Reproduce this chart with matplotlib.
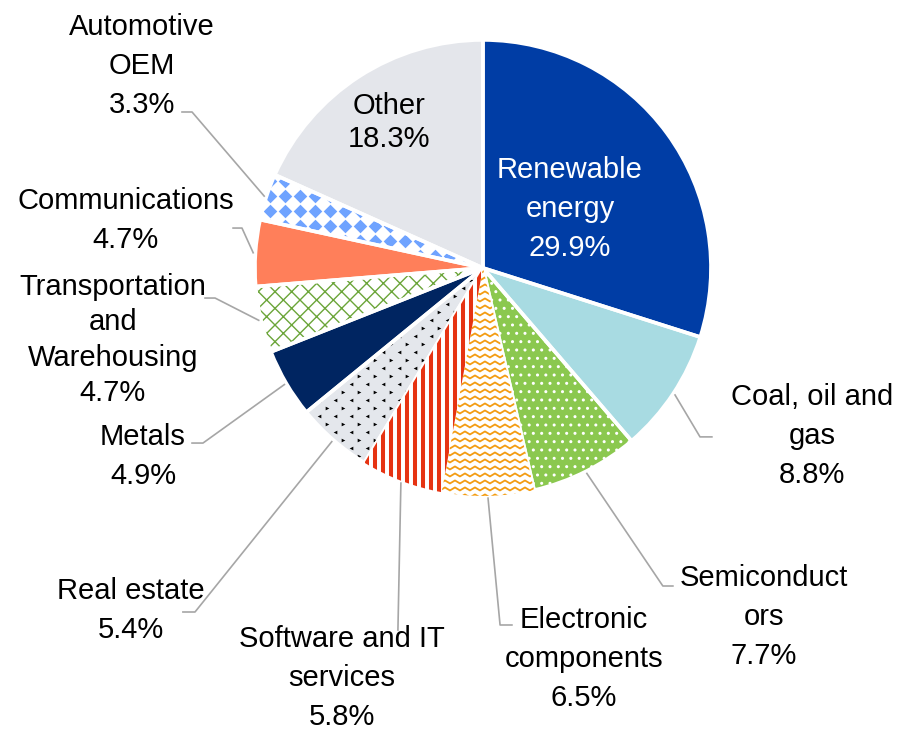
import numpy as np
import matplotlib
matplotlib.use("Agg")
import matplotlib.pyplot as plt
from matplotlib.collections import LineCollection

plt.rcParams['font.family'] = ['Liberation Sans', 'DejaVu Sans']
plt.rcParams['hatch.linewidth'] = 1.0

# Sector shares, clockwise from 12 o'clock
sectors = ["Renewable\nenergy", "Coal, oil and\ngas", "Semiconduct\nors",
           "Electronic\ncomponents", "Software and IT\nservices", "Real estate",
           "Metals", "Transportation\nand\nWarehousing", "Communications",
           "Automotive\nOEM", "Other"]
shares = [29.9, 8.8, 7.7, 6.5, 5.8, 5.4, 4.9, 4.7, 4.7, 3.3, 18.3]

face_colors = ["#003DA5", "#A8DBE2", "#8BC84F", "white", "white", "#E4E7EC",
               "#002561", "white", "#FF7F5A", "white", "#E4E6EB"]
hatch_colors = ["#003DA5", "#A8DBE2", "white", "white", "white", "#E4E7EC",
                "#002561", "#6BA539", "#FF7F5A", "white", "#E4E6EB"]
hatches = [None, None, "..", None, None, None, None, "xx", None, None, None]

# label placement: (knee, end of leader, text centre) in axes data units
label_pos = {
    1: ((0.952, -0.741), (1.004, -0.741), (1.443, -0.738)),
    2: ((0.789, -1.395), (0.833, -1.395), (1.232, -1.533)),
    3: ((0.075, -1.566), (0.127, -1.566), (0.443, -1.713)),
    4: ((-0.373, -1.588), (-0.373, -1.588), (-0.618, -1.800)),
    5: ((-1.263, -1.509), (-1.316, -1.509), (-1.544, -1.504)),
    6: ((-1.228, -0.768), (-1.276, -0.768), (-1.491, -0.825)),
    7: ((-1.175, -0.132), (-1.219, -0.132), (-1.623, -0.316)),
    8: ((-1.057, 0.175), (-1.096, 0.175), (-1.566, 0.206)),
    9: ((-1.276, 0.684), (-1.320, 0.684), (-1.496, 0.886)),
}
inside_pos = {0: (0.382, 0.257), 10: (-0.412, 0.638)}
spacing = {7: 1.32, 10: 1.27}

fig = plt.figure(figsize=(9.08, 7.34), dpi=100)
ax = fig.add_axes([0.2808, 0.3243, 0.5022, 0.6213])

wedges, _ = ax.pie(shares, startangle=90, counterclock=False, radius=1,
                   colors=face_colors, wedgeprops=dict(linewidth=0))
for w, ec, h in zip(wedges, hatch_colors, hatches):
    w.set_edgecolor(ec)
    w.set_linewidth(0)
    if h:
        w.set_hatch(h)

px = 1 / 228.0  # one pixel in data units

# red vertical stripes (Software and IT services)
xs = np.arange(-1, 1, 8 * px)
stripes = LineCollection([[(x, -1.05), (x, 1.05)] for x in xs],
                         colors="#E63312", linewidths=2.9)
ax.add_collection(stripes)
stripes.set_clip_path(wedges[4])

# orange zigzag rows (Electronic components)
zx = np.arange(-1, 1, 5 * px)
zig = []
for y in np.arange(-1, 1, 7 * px):
    zy = y + np.where(np.arange(len(zx)) % 2 == 0, 1.5 * px, -1.5 * px)
    zig.append(np.column_stack([zx, zy]))
zz = LineCollection(zig, colors="#F39C12", linewidths=1.3)
ax.add_collection(zz)
zz.set_clip_path(wedges[3])

# blue diamonds (Automotive OEM)
gx, gy = np.meshgrid(np.arange(-1, 1, 15 * px), np.arange(-1, 1, 15 * px))
dm = ax.scatter(gx.ravel(), gy.ravel(), marker="D", s=48, color="#6FA3FF",
                linewidths=0)
dm.set_clip_path(wedges[9])

# small black chevrons (Real estate)
cx, cy = np.meshgrid(np.arange(-1, 1, 16 * px), np.arange(-1, 1, 8 * px))
shift = (np.arange(cy.shape[0]) % 2)[:, None] * 8 * px
cx = cx + shift
rows = (np.arange(cy.shape[0]) % 2)[:, None] * np.ones_like(cx)
for mk, sel in (("<", rows == 0), (">", rows == 1)):
    sc = ax.scatter(cx[sel], cy[sel], marker=mk, s=7, color="black",
                    linewidths=0)
    sc.set_clip_path(wedges[5])

# white separators between wedges
sep, _ = ax.pie(shares, startangle=90, counterclock=False, radius=1,
                colors=["none"] * len(shares),
                wedgeprops=dict(linewidth=2.6, edgecolor="white"))

ax.set_xlim(-1, 1)
ax.set_ylim(-1, 1)
ax.set_aspect("equal")
ax.axis("off")

# labels with leader lines
cum = np.cumsum([0] + shares[:-1])
for i, (name, val) in enumerate(zip(sectors, shares)):
    text = f"{name}\n{val:.1f}%"
    ls = spacing.get(i, 1.5)
    if i in inside_pos:
        color = "white" if i == 0 else "black"
        ax.text(*inside_pos[i], text, ha="center", va="center", fontsize=21,
                color=color, linespacing=ls)
        continue
    mid = np.deg2rad(90 - 3.6 * (cum[i] + val / 2))
    start = (1.01 * np.cos(mid), 1.01 * np.sin(mid))
    knee, end, tc = label_pos[i]
    ax.plot([start[0], knee[0], end[0]], [start[1], knee[1], end[1]],
            color="#A6A6A6", lw=1.2, clip_on=False)
    ax.text(*tc, text, ha="center", va="center", fontsize=21, color="black",
            linespacing=ls, clip_on=False)

fig.savefig("out.png", dpi=100)
